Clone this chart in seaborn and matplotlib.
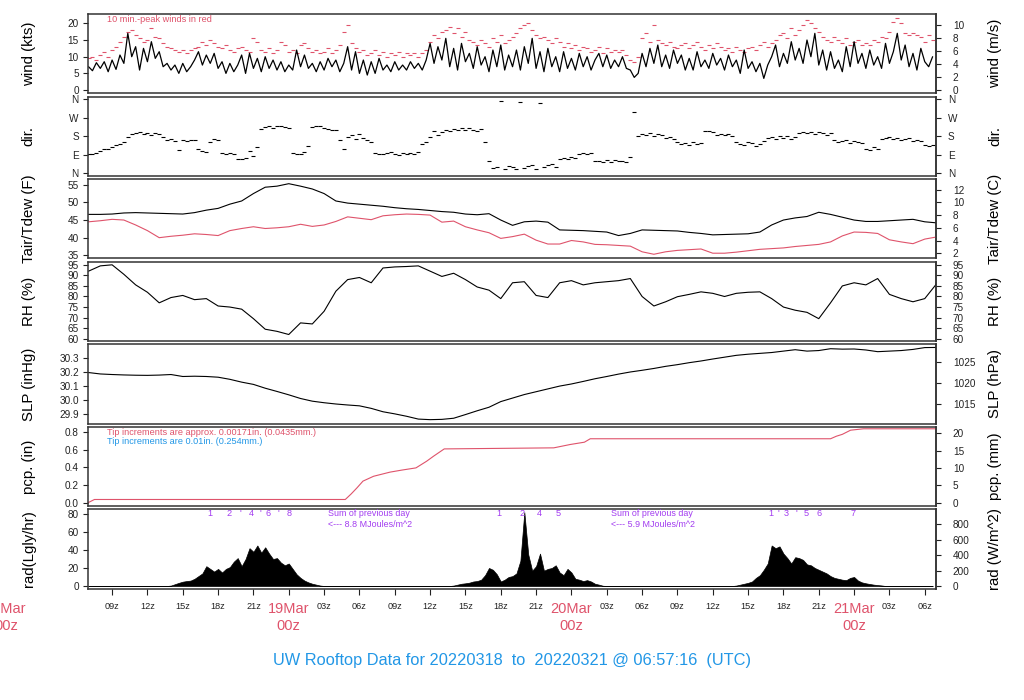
import warnings
import numpy as np
import matplotlib
matplotlib.use("Agg")
import matplotlib.pyplot as plt
import matplotlib.transforms as mtransforms
import seaborn as sns

warnings.filterwarnings("ignore")

# ---------------- data (time = hours since 18Mar 00z) ----------------
hours = np.arange(7, 80)            # hourly samples 18Mar 07z .. 21Mar 07z
t20 = 7 + np.arange(216) / 3.0      # 20-minute samples

wind_kts = [
    7.0, 5.8, 8.2, 6.5, 8.5, 5.5, 9.0, 6.2, 10.5,
    8.0, 17.0, 10.0, 13.0, 6.0, 12.5, 8.5, 14.5, 9.5,
    11.5, 7.0, 8.0, 6.0, 7.5, 5.0, 8.0, 5.5, 7.0,
    9.0, 11.5, 7.5, 10.5, 8.0, 11.0, 6.5, 8.5, 5.0,
    8.0, 5.5, 7.5, 10.5, 5.0, 11.0, 6.5, 9.5, 5.5,
    10.0, 6.5, 9.0, 6.0, 8.5, 5.5, 7.5, 6.0, 12.0,
    7.0, 10.5, 6.5, 8.0, 5.5, 8.5, 6.0, 9.5, 7.0,
    9.0, 5.5, 8.0, 13.0, 6.0, 11.5, 5.0, 9.0, 4.5,
    8.5, 5.0, 9.5, 6.0, 7.5, 5.5, 8.5, 6.0, 7.5,
    6.0, 8.5, 6.5, 8.0, 6.0, 9.0, 14.0, 8.0, 13.0,
    9.0, 15.5, 7.0, 12.5, 6.0, 14.0, 8.5, 11.0, 6.5,
    13.0, 7.5, 10.0, 5.5, 12.0, 7.0, 13.5, 6.0, 10.5,
    7.0, 12.0, 6.0, 13.0, 8.0, 15.5, 6.5, 11.5, 5.5,
    12.5, 7.0, 10.0, 5.5, 11.5, 6.5, 9.5, 6.0, 11.0,
    7.0, 10.0, 6.0, 9.0, 11.0, 7.0, 10.5, 6.5, 9.0,
    7.0, 10.0, 6.5, 6.0, 3.8, 5.0, 11.0, 7.0, 12.5,
    8.0, 13.5, 7.0, 10.5, 6.5, 12.0, 8.0, 10.5, 6.0,
    9.5, 6.0, 11.5, 7.0, 9.0, 6.5, 11.0, 7.5, 9.5,
    6.0, 10.5, 7.0, 9.0, 5.0, 12.0, 6.5, 8.5, 5.5,
    8.0, 3.5, 7.5, 10.0, 13.5, 7.0, 11.0, 8.0, 14.5,
    9.0, 12.5, 8.0, 15.0, 10.0, 17.0, 7.5, 12.0, 6.0,
    11.5, 6.5, 9.0, 5.5, 13.0, 7.0, 14.5, 8.0, 11.0,
    6.5, 12.0, 7.5, 10.0, 6.5, 14.0, 8.0, 11.5, 17.0,
    9.0, 13.5, 7.0, 11.0, 6.0, 12.5, 8.5, 7.0, 10.0,
]

gust_kts = [
    9.5, 10.0, 9.0, 10.5, 11.5, 10.0, 12.0, 13.0, 14.5,
    16.0, 17.5, 18.0, 16.5, 15.5, 14.5, 15.0, 18.5, 16.0,
    15.5, 14.0, 13.0, 12.5, 12.0, 11.5, 12.0, 11.0, 12.0,
    12.5, 13.0, 14.5, 13.5, 15.0, 14.0, 13.0, 12.5, 13.5,
    12.0, 11.5, 12.5, 13.0, 12.0, 11.5, 15.5, 14.5, 12.0,
    11.5, 12.5, 11.0, 12.0, 14.5, 13.5, 11.5, 12.0, 11.0,
    13.5, 14.0, 12.5, 11.5, 12.0, 11.0, 11.5, 12.5, 11.0,
    12.0, 13.5, 17.5, 19.5, 14.0, 12.5, 11.5, 12.0, 10.5,
    11.0, 12.0, 10.5, 11.5, 10.0, 11.0, 10.5, 11.5, 10.0,
    11.0, 10.5, 11.0, 10.0, 11.0, 12.0, 14.5, 16.5, 15.5,
    17.5, 18.0, 19.0, 17.0, 18.5, 16.0, 17.5, 15.0, 14.5,
    13.5, 15.0, 14.0, 13.0, 15.5, 14.5, 16.5, 14.0, 15.0,
    16.0, 17.0, 18.5, 19.5, 20.0, 18.0, 16.5, 15.5, 16.0,
    15.0, 14.0, 15.5, 14.5, 13.0, 14.0, 12.5, 13.5, 12.0,
    13.0, 12.5, 11.5, 12.0, 13.0, 11.0, 12.5, 11.5, 12.0,
    11.5, 12.0, 10.5, 9.0, 8.5, 10.0, 15.5, 17.0, 14.5,
    19.5, 15.0, 14.0, 13.5, 14.5, 13.0, 12.5, 13.5, 14.0,
    12.5, 13.5, 14.5, 13.0, 12.0, 13.5, 12.5, 14.0, 13.0,
    12.0, 12.5, 11.5, 13.0, 12.0, 11.5, 12.5, 13.0, 12.0,
    13.5, 14.5, 13.0, 14.0, 15.0, 16.5, 17.0, 15.5, 18.5,
    16.5, 18.0, 19.5, 21.0, 20.0, 18.5, 17.5, 16.0, 15.0,
    14.5, 16.0, 15.0, 14.0, 15.5, 13.5, 14.5, 15.0, 13.5,
    14.0, 13.5, 15.0, 14.5, 16.0, 15.5, 17.5, 20.5, 21.5,
    20.0, 17.0, 16.5, 17.0, 16.5, 16.0, 14.5, 16.5, 15.0,
]

wind_dir = [
    95, 92, 100, 110, 120, 118, 128, 135, 140,
    150, 175, 190, 195, 200, 192, 198, 185, 195,
    190, 175, 160, 165, 158, 115, 160, 155, 162,
    160, 120, 110, 105, 150, 165, 160, 100, 95,
    100, 95, 70, 68, 72, 110, 85, 125, 215,
    225, 230, 220, 228, 232, 225, 218, 100, 95,
    92, 105, 130, 225, 230, 228, 222, 215, 210,
    212, 160, 120, 175, 185, 165, 190, 170, 160,
    150, 100, 95, 92, 98, 102, 95, 90, 97,
    93, 100, 95, 105, 140, 150, 175, 205, 185,
    200, 210, 205, 215, 212, 220, 210, 218, 212,
    208, 215, 150, 60, 25, 30, 355, 20, 35,
    28, 18, 350, 25, 32, 40, 20, 345, 30,
    38, 45, 28, 70, 75, 68, 78, 72, 95,
    98, 95, 100, 58, 60, 52, 62, 55, 65,
    58, 60, 55, 80, 300, 180, 190, 185, 195,
    182, 190, 188, 170, 175, 165, 150, 140, 145,
    135, 150, 140, 148, 205, 208, 200, 188, 190,
    185, 192, 180, 150, 140, 135, 150, 145, 130,
    140, 155, 170, 175, 165, 180, 170, 182, 168,
    175, 195, 200, 198, 202, 190, 200, 195, 188,
    198, 160, 150, 155, 160, 148, 155, 150, 145,
    120, 115, 125, 118, 165, 170, 175, 168, 172,
    160, 165, 170, 158, 162, 155, 135, 130, 138,
]

tair_f = [
    46.6, 46.6, 46.7, 47.0, 47.1, 47.0, 46.9, 46.8, 46.7, 47.1,
    47.8, 48.3, 49.5, 50.4, 52.5, 54.3, 54.6, 55.3, 54.6, 53.8,
    52.5, 50.4, 49.8, 49.5, 49.2, 48.9, 48.5, 48.2, 48.0, 47.7,
    47.4, 47.2, 46.7, 46.5, 46.8, 45.0, 43.5, 44.5, 44.7, 44.4,
    42.2, 42.1, 42.0, 41.8, 41.6, 40.6, 41.2, 42.2, 42.1, 42.0,
    41.9, 41.5, 41.2, 40.8, 40.9, 41.0, 41.1, 41.6, 43.6, 45.0,
    45.6, 46.0, 47.2, 46.6, 45.8, 45.0, 44.6, 44.6, 44.8, 45.0,
    45.2, 44.5, 44.2,
]

tdew_f = [
    44.5, 44.8, 45.2, 45.0, 43.6, 42.0, 40.0, 40.4, 40.7, 41.1,
    40.9, 40.6, 42.0, 42.6, 43.1, 42.6, 42.8, 43.1, 43.8, 43.2,
    43.6, 44.6, 45.9, 45.5, 45.1, 46.2, 46.5, 46.7, 46.6, 46.4,
    44.4, 44.7, 43.1, 42.2, 41.4, 39.8, 40.3, 41.0, 39.3, 38.2,
    38.2, 39.2, 38.8, 38.1, 38.0, 37.8, 37.6, 36.0, 35.3, 36.0,
    36.4, 36.6, 36.8, 35.6, 35.6, 35.9, 36.3, 36.7, 36.9, 37.1,
    37.5, 37.8, 38.1, 38.8, 40.5, 41.6, 41.5, 41.2, 39.4, 38.8,
    38.3, 39.6, 40.2,
]

rh_pct = [
    92.0, 94.5, 95.0, 90.5, 85.5, 82.0, 77.0, 79.5, 80.5, 78.5,
    79.0, 75.5, 75.0, 74.0, 69.5, 64.5, 63.5, 62.0, 67.5, 67.0,
    73.0, 82.5, 88.0, 89.0, 86.5, 93.5, 94.0, 94.2, 94.5, 92.0,
    89.5, 91.0, 88.0, 84.5, 83.0, 79.0, 86.5, 87.0, 80.5, 79.5,
    86.5, 87.5, 85.5, 86.5, 87.0, 87.5, 88.5, 80.0, 75.5, 77.5,
    79.9, 81.0, 82.2, 81.5, 80.0, 81.5, 82.0, 82.2, 79.0, 75.0,
    73.5, 72.5, 69.5, 77.0, 85.0, 86.5, 85.5, 88.5, 81.0, 79.0,
    77.5, 79.0, 86.0,
]

slp_inhg = [
    30.196, 30.186, 30.182, 30.179, 30.177, 30.176, 30.178, 30.182, 30.168, 30.170,
    30.168, 30.163, 30.148, 30.128, 30.112, 30.085, 30.062, 30.038, 30.012, 29.993,
    29.982, 29.973, 29.966, 29.960, 29.942, 29.918, 29.903, 29.886, 29.866, 29.862,
    29.864, 29.872, 29.898, 29.925, 29.950, 29.990, 30.015, 30.040, 30.060, 30.080,
    30.100, 30.115, 30.133, 30.152, 30.168, 30.185, 30.200, 30.212, 30.225, 30.240,
    30.252, 30.266, 30.278, 30.292, 30.305, 30.318, 30.326, 30.332, 30.338, 30.348,
    30.358, 30.348, 30.352, 30.365, 30.362, 30.363, 30.356, 30.344, 30.348, 30.352,
    30.360, 30.373, 30.374,
]

pcp_hours = [6.95, 7.5, 28.8, 29.3, 29.8, 30.3, 31.2, 32.6, 33.6, 34.8, 35.7, 36.3,
             37.2, 46.5, 47.9, 49.1, 49.6, 70.0, 70.5, 71.0, 71.7, 72.8, 79.0]
pcp_in = [0.0, 0.037, 0.037, 0.10, 0.17, 0.245, 0.30, 0.347, 0.37, 0.395, 0.47, 0.528,
          0.61, 0.622, 0.66, 0.686, 0.725, 0.725, 0.754, 0.775, 0.822, 0.838, 0.838]

rad_ly = [
    0, 0, 0, 0, 0, 0, 0, 0, 0,
    0, 0, 0, 0, 0, 0, 0, 0, 0,
    0, 0, 0, 0.5, 2, 3.5, 4.8, 5.5, 6,
    8, 11, 14, 22, 19, 16, 19, 15, 19,
    21, 27, 31, 22, 30, 42, 38, 45, 37,
    43, 36, 30, 31, 26, 23, 25, 19, 13,
    9, 6, 4, 2.5, 1.5, 0.5, 0, 0, 0,
    0, 0, 0, 0, 0, 0, 0, 0, 0,
    0, 0, 0, 0, 0, 0, 0, 0, 0,
    0, 0, 0, 0, 0, 0, 0, 0, 0,
    0, 0, 0, 0.5, 1.5, 2.5, 3, 3.7, 5,
    5.5, 7, 12, 20, 18, 13, 5, 7, 10,
    11, 14, 28, 82, 35, 17, 22, 36, 17,
    19, 20, 23, 15, 12, 19, 15, 8, 7,
    5.5, 6.5, 5, 2.5, 1.5, 0.3, 0, 0, 0,
    0, 0, 0, 0, 0, 0, 0, 0, 0,
    0, 0, 0, 0, 0, 0, 0, 0, 0,
    0, 0, 0, 0, 0, 0, 0, 0, 0,
    0, 0, 0, 0.5, 1.5, 2.5, 3.5, 5, 9,
    12, 18, 25, 45, 42, 44, 36, 31, 25,
    32, 31, 29, 24, 23, 20, 18, 16, 14,
    11, 9, 8, 7, 6.5, 9, 10, 6, 4,
    3, 2.2, 1.5, 1, 0.6, 0, 0, 0, 0,
    0, 0, 0, 0, 0, 0, 0, 0, 0,
]

# cumulative MJ/m^2 marks along the top of the radiation panel
mj_hours = [17.29, 18.9, 19.92, 20.86, 21.62, 22.22, 23.15, 24.0,
            41.8, 43.8, 45.25, 46.9,
            64.95, 65.6, 66.2, 67.1, 67.9, 69.05, 71.9]
mj_labels = ["1", "2", "'", "4", "'", "6", "'", "8",
             "1", "2", "4", "5",
             "1", "'", "3", "'", "5", "6", "7"]
daily_sum_hours = [27.34, 51.36]
daily_sum_mj = [8.8, 5.9]

date_hours = [0, 24, 48, 72]
date_labels = ["18Mar", "19Mar", "20Mar", "21Mar"]

# ---------------- style ----------------
sns.set_theme(style="ticks")
plt.rcParams["font.family"] = ["Liberation Sans", "DejaVu Sans"]

RED = "#DF536B"
BLUE = "#2297E6"
PURPLE = "#A23CF0"
FRAME = "#333333"
TXT = "#222222"

fig = plt.figure(figsize=(10.24, 7.0), dpi=100)
XLIM = (6.954, 78.954)

axes = []
for i in range(7):
    top = 14 + 82.55 * i
    ax = fig.add_axes([88 / 1024, 1 - (top + 79.4) / 700, 848 / 1024, 79.4 / 700])
    ax.set_xlim(*XLIM)
    for s in ax.spines.values():
        s.set_color(FRAME)
        s.set_linewidth(1.1)
    ax.tick_params(axis="y", length=3.6, width=0.8, pad=3, labelsize=7.2,
                   colors=TXT, direction="out")
    ax.tick_params(axis="x", bottom=False, labelbottom=False)
    axes.append(ax)


def side_labels(ax, left, right):
    ax.text(-0.070, 0.5, left, transform=ax.transAxes, rotation=90,
            ha="center", va="center", fontsize=10.8, color="black")
    ax.text(1.0696, 0.5, right, transform=ax.transAxes, rotation=90,
            ha="center", va="center", fontsize=10.8, color="black")


def right_axis(ax, fwd, inv, ticks, labels=None, pad=8.5):
    sec = ax.secondary_yaxis("right", functions=(fwd, inv))
    sec.set_yticks(ticks)
    if labels is not None:
        sec.set_yticklabels(labels)
    sec.tick_params(length=3.6, width=0.8, pad=pad, labelsize=7.2, colors=TXT)
    sec.spines["right"].set_color(FRAME)
    sec.spines["right"].set_linewidth(1.1)
    return sec


# 1. wind speed
ax = axes[0]
sns.lineplot(x=t20, y=wind_kts, ax=ax, color="black", linewidth=0.9,
             estimator=None, sort=False)
sns.scatterplot(x=t20, y=gust_kts, ax=ax, marker="_", s=9, color=RED,
                linewidth=0.8)
ax.set_ylim(-1.0, 22.8)
ax.set_yticks([0, 5, 10, 15, 20])
ax.text(0.022, 0.93, "10 min.-peak winds in red", transform=ax.transAxes,
        fontsize=6.6, color=RED, ha="left", va="center")
right_axis(ax, lambda k: k * 0.514444, lambda m: m / 0.514444, [0, 2, 4, 6, 8, 10])
side_labels(ax, "wind (kts)", "wind (m/s)")

# 2. wind direction
ax = axes[1]
sns.scatterplot(x=t20, y=wind_dir, ax=ax, marker="_", s=9, color="black",
                linewidth=0.8)
ax.set_ylim(-14.4, 374.4)
dir_ticks = [0, 90, 180, 270, 360]
dir_names = ["N", "E", "S", "W", "N"]
ax.set_yticks(dir_ticks)
ax.set_yticklabels(dir_names)
right_axis(ax, lambda d: d, lambda d: d, dir_ticks, dir_names, pad=5)
side_labels(ax, "dir.", "dir.")

# 3. temperature / dew point
ax = axes[2]
sns.lineplot(x=hours, y=tair_f, ax=ax, color="black", linewidth=0.8, estimator=None)
sns.lineplot(x=hours, y=tdew_f, ax=ax, color=RED, linewidth=0.8, estimator=None)
ax.set_ylim(34.1, 56.6)
ax.set_yticks([35, 40, 45, 50, 55])
right_axis(ax, lambda f: (f - 32) * 5 / 9, lambda c: c * 9 / 5 + 32, [2, 4, 6, 8, 10, 12])
side_labels(ax, "Tair/Tdew (F)", "Tair/Tdew (C)")

# 4. relative humidity
ax = axes[3]
sns.lineplot(x=hours, y=rh_pct, ax=ax, color="black", linewidth=0.8, estimator=None)
ax.set_ylim(58.9, 96.5)
rh_ticks = list(range(60, 100, 5))
ax.set_yticks(rh_ticks)
right_axis(ax, lambda r: r, lambda r: r, rh_ticks)
side_labels(ax, "RH (%)", "RH (%)")

# 5. sea level pressure
ax = axes[4]
sns.lineplot(x=hours, y=slp_inhg, ax=ax, color="black", linewidth=0.8, estimator=None)
ax.set_ylim(29.834, 30.397)
ax.set_yticks([29.9, 30.0, 30.1, 30.2, 30.3])
ax.set_yticklabels(["29.9", "30.0", "30.1", "30.2", "30.3"])
right_axis(ax, lambda p: p * 33.8639, lambda h: h / 33.8639, [1015, 1020, 1025])
side_labels(ax, "SLP (inHg)", "SLP (hPa)")

# 6. precipitation
ax = axes[5]
sns.lineplot(x=pcp_hours, y=pcp_in, ax=ax, color=RED, linewidth=0.8, estimator=None)
ax.set_ylim(-0.0385, 0.861)
ax.set_yticks([0.0, 0.2, 0.4, 0.6, 0.8])
ax.set_yticklabels(["0.0", "0.2", "0.4", "0.6", "0.8"])
ax.text(0.022, 0.93, "Tip increments are approx. 0.00171in. (0.0435mm.)",
        transform=ax.transAxes, fontsize=6.6, color=RED, ha="left", va="center")
ax.text(0.022, 0.81, "Tip increments are 0.01in. (0.254mm.)",
        transform=ax.transAxes, fontsize=6.6, color=BLUE, ha="left", va="center")
right_axis(ax, lambda p: p * 25.4, lambda m: m / 25.4, [0, 5, 10, 15, 20])
side_labels(ax, "pcp. (in)", "pcp. (mm)")

# 7. solar radiation
ax = axes[6]
ax.fill_between(t20, rad_ly, 0, color="black", linewidth=0.5)
ax.set_ylim(-3, 85.2)
ax.set_yticks([0, 20, 40, 60, 80])
for h, lab in zip(mj_hours, mj_labels):
    ax.text(h, 80, lab, fontsize=6.6, color=PURPLE, ha="center", va="center")
for h, mj in zip(daily_sum_hours, daily_sum_mj):
    ax.text(h, 80, "Sum of previous day", fontsize=6.4, color=PURPLE,
            ha="left", va="center")
    ax.text(h, 68, f"<--- {mj} MJoules/m^2", fontsize=6.4, color=PURPLE,
            ha="left", va="center")
right_axis(ax, lambda r: r * 11.622, lambda w: w / 11.622, [0, 200, 400, 600, 800])
side_labels(ax, "rad(Lgly/hr)", "rad (W/m^2)")

# time axis on the bottom panel
xt = list(range(9, 79, 3))
ax.set_xticks(xt)
ax.set_xticklabels(["" if h % 24 == 0 else f"{h % 24:02d}z" for h in xt])
ax.tick_params(axis="x", bottom=True, labelbottom=True, length=4.5, width=0.8,
               pad=5, labelsize=6.6, colors=TXT, direction="out")
blend = mtransforms.blended_transform_factory(ax.transData, fig.transFigure)
for h, lab in zip(date_hours, date_labels):
    ax.text(h, 1 - 609 / 700, lab, transform=blend, fontsize=10.5, color=RED,
            ha="center", va="center", clip_on=False)
    ax.text(h, 1 - 626 / 700, "00z", transform=blend, fontsize=10.5, color=RED,
            ha="center", va="center", clip_on=False)

fig.text(0.5, 1 - 660 / 700,
         "UW Rooftop Data for 20220318  to  20220321 @ 06:57:16  (UTC)",
         ha="center", va="center", fontsize=11.8, color=BLUE)

fig.savefig("out.png", dpi=100)
